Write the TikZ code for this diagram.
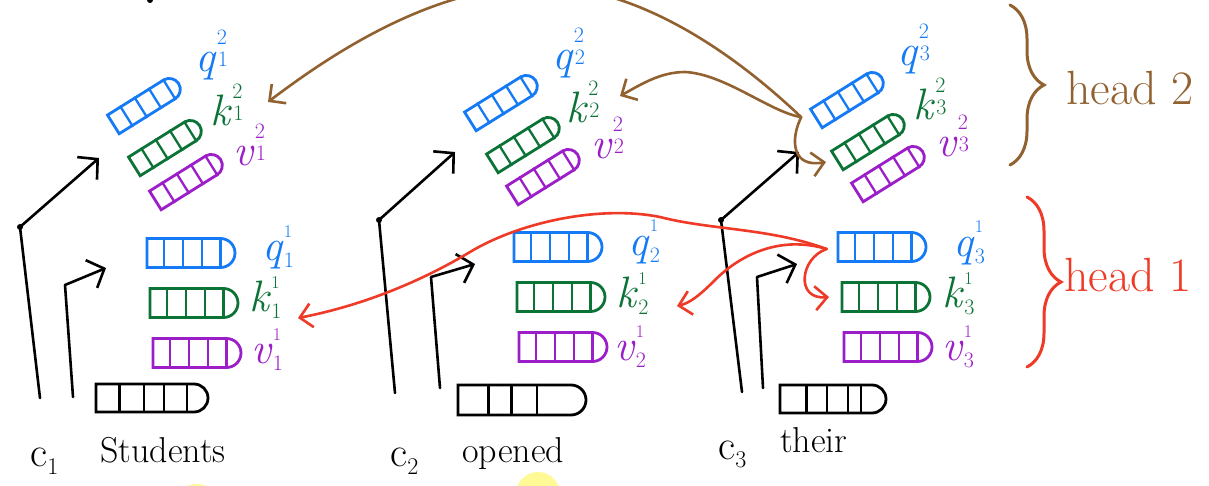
\documentclass[tikz,border=0pt]{standalone}
\usetikzlibrary{arrows.meta,calc,decorations.pathreplacing,shapes.misc}
\definecolor{cq}{RGB}{20,122,245}
\definecolor{ck}{RGB}{12,115,55}
\definecolor{cv}{RGB}{155,30,200}
\definecolor{cbr}{RGB}{145,98,48}
\definecolor{crd}{RGB}{238,58,38}
\definecolor{cyel}{RGB}{255,250,150}
% label = letter node + superscript node + subscript node
% #1 name, #2 colour, #3 position (base west), #4 letter, #5 sup, #6 sub
\newcommand{\labA}[6]{%
  \node[lbl,#2] (#1) at (#3) {\textit{#4}};
  \node[scrA,#2] (#1s) at ($(#1.base east)+(0,-27)$) {#5};
  \node[scrA,#2] (#1b) at ($(#1.base east)+(1,-5)$) {#6};}
\newcommand{\labB}[6]{%
  \node[lbl,#2] (#1) at (#3) {\textit{#4}};
  \node[scrB,#2] (#1s) at ($(#1.base east)+(0,-23)$) {#5};
  \node[scrA,#2] (#1b) at ($(#1.base east)+(0,7)$) {#6};}
\newcommand{\cells}[3]{\foreach \t in {#3}{\draw[#2,line width=2.3pt] ($(#1.north west)!\t!(#1.north east)$) -- ($(#1.south west)!\t!(#1.south east)$);}}
\begin{document}
\begin{tikzpicture}[x=1pt,y=-1pt,
  vbox/.style={rounded rectangle, rounded rectangle left arc=none, draw=#1, line width=2.8pt, inner sep=0pt},
  hvec/.style={vbox=#1, minimum width=88pt, minimum height=29pt},
  tvec/.style={vbox=#1, minimum width=77pt, minimum height=22pt, rotate=32},
  emb/.style={vbox=black, minimum height=28pt},
  lbl/.style={inner sep=0pt, anchor=base west, font=\fontsize{44}{44}\selectfont},
  scrA/.style={inner sep=0pt, anchor=base west, font=\fontsize{22}{22}\selectfont},
  scrB/.style={inner sep=0pt, anchor=base west, font=\fontsize{18}{18}\selectfont},
  word/.style={inner sep=0pt, anchor=base west, font=\fontsize{36}{36}\selectfont},
  cl/.style={inner sep=0pt, anchor=base west, font=\fontsize{42}{42}\selectfont},
  hd/.style={inner sep=0pt, font=\fontsize{48}{48}\selectfont},
  res/.style={line width=2.6pt, line cap=round, line join=round, -{Straight Barb[length=14pt,width=30pt,line width=2.6pt]}},
  att/.style={line width=2.6pt, line cap=round, -{Straight Barb[length=12pt,width=24pt,line width=2.6pt]}},
  dot/.style={circle, fill=black, inner sep=0pt, minimum size=6pt}
]
\useasboundingbox (0,0) rectangle (1209,486);
\clip (0,0) rectangle (1209,486);
\fill[white] (0,0) rectangle (1209,486);
\fill[cyel] (538,494) circle (22);
\fill[cyel] (197,506) circle (22);
\fill[black] (150,0) circle (3);

% ---------- embeddings ----------
\node[emb, minimum width=112pt] (e1) at (152,398) {};
\node[emb, minimum width=128pt, minimum height=30pt] (e2) at (522,400) {};
\node[emb, minimum width=106pt] (e3) at (833,399) {};
\cells{e1}{black}{0.25,0.5,0.7,0.93}
\cells{e2}{black}{0.28,0.48,0.7}
\cells{e3}{black}{0.3,0.52,0.74,0.88}

\node[cl] (c1) at (30,466) {c\raisebox{-0.2em}{\fontsize{24}{24}\selectfont 1}};
\node[cl] (c2) at (390,466) {c\raisebox{-0.2em}{\fontsize{24}{24}\selectfont 2}};
\node[cl] (c3) at (718,459) {c\raisebox{-0.2em}{\fontsize{24}{24}\selectfont 3}};
\node[word] (w1) at (100,462) {Students};
\node[word] (w2) at (462,462) {opened};
\node[word] (w3) at (780,452) {their};

% ---------- head 1 vectors ----------
\node[hvec=cq] (q11) at (191,253) {};
\node[hvec=ck] (k11) at (194,303) {};
\node[hvec=cv] (v11) at (197,353) {};
\node[hvec=cq] (q12) at (558,247) {};
\node[hvec=ck] (k12) at (561,297) {};
\node[hvec=cv] (v12) at (563,347) {};
\node[hvec=cq] (q13) at (882,247) {};
\node[hvec=ck] (k13) at (886,297) {};
\node[hvec=cv] (v13) at (888,347) {};
% ---------- head 2 vectors ----------
\node[tvec=cq] (q21) at (146,104) {};
\node[tvec=ck] (k21) at (167,146) {};
\node[tvec=cv] (v21) at (188,180) {};
\node[tvec=cq] (q22) at (503,101) {};
\node[tvec=ck] (k22) at (525,143) {};
\node[tvec=cv] (v22) at (545,175) {};
\node[tvec=cq] (q23) at (849,98) {};
\node[tvec=ck] (k23) at (870,140) {};
\node[tvec=cv] (v23) at (890,172) {};
\foreach \n/\c in {q11/cq,k11/ck,v11/cv,q12/cq,k12/ck,v12/cv,q13/cq,k13/ck,v13/cv,
                   q21/cq,k21/ck,v21/cv,q22/cq,k22/ck,v22/cv,q23/cq,k23/ck,v23/cv}{
  \cells{\n}{\c}{0.25,0.5,0.75,1}
}

% ---------- labels ----------
\labA{lq21}{cq}{195,72}{q}{2}{1}
\labA{lk21}{ck}{210,126}{k}{2}{1}
\labA{lv21}{cv}{233,166}{v}{2}{1}
\labA{lq22}{cq}{552,70}{q}{2}{2}
\labA{lk22}{ck}{566,123}{k}{2}{2}
\labA{lv22}{cv}{591,159}{v}{2}{2}
\labA{lq23}{cq}{897,66}{q}{2}{3}
\labA{lk23}{ck}{913,120}{k}{2}{3}
\labA{lv23}{cv}{936,157}{v}{2}{3}
\labB{lq11}{cq}{262,260}{q}{1}{1}
\labB{lk11}{ck}{249,311}{k}{1}{1}
\labB{lv11}{cv}{251,363}{v}{1}{1}
\labB{lq12}{cq}{628,255}{q}{1}{2}
\labB{lk12}{ck}{616,307}{k}{1}{2}
\labB{lv12}{cv}{614,360}{v}{1}{2}
\labB{lq13}{cq}{953,256}{q}{1}{3}
\labB{lk13}{ck}{942,307}{k}{1}{3}
\labB{lv13}{cv}{942,360}{v}{1}{3}

% ---------- residual / projection arrows ----------
\coordinate (a1) at (40,398);  \coordinate (a1m) at (20,227);  \coordinate (a1e) at (99,158);
\coordinate (b1) at (73,397);  \coordinate (b1m) at (65,285);  \coordinate (b1e) at (106,268);
\coordinate (a2) at (395,393); \coordinate (a2m) at (379,220); \coordinate (a2e) at (455,152);
\coordinate (b2) at (440,388); \coordinate (b2m) at (431,277); \coordinate (b2e) at (475,264);
\coordinate (a3) at (742,392); \coordinate (a3m) at (721,220); \coordinate (a3e) at (799,152);
\coordinate (b3) at (763,388); \coordinate (b3m) at (757,277); \coordinate (b3e) at (797,264);
\foreach \i in {1,2,3}{
  \draw[res] (a\i) -- (a\i m) -- (a\i e);
  \draw[res] (b\i) -- (b\i m) -- (b\i e);
  \node[dot] at (a\i m) {};
}

% ---------- head 2 attention (brown) ----------
\coordinate (bs) at ($(q23.west)+(-14,-2)$);
\coordinate (bt1) at (268,102);
\coordinate (bt2) at (620,96);
\coordinate (bt3) at (826,162);
\draw[att, cbr] (bs) .. controls (720,40) and (625,-16) .. (535,-14)
                     .. controls (430,-12) and (330,55) .. (bt1);
\draw[att, cbr] (bs) .. controls (770,112) and (725,74) .. (685,72)
                     .. controls (660,72) and (640,85) .. (bt2);
\draw[att, cbr] (bs) .. controls (790,140) and (792,168) .. (bt3);

% ---------- head 1 attention (red) ----------
\coordinate (rs) at ($(q13.west)+(-10,2)$);
\coordinate (rt1) at (298,318);
\coordinate (rt2) at (677,306);
\coordinate (rt3) at (829,297);
\draw[att, crd] (rs) .. controls (770,228) and (710,230) .. (660,217)
                     .. controls (600,205) and (520,222) .. (470,252)
                     .. controls (410,288) and (350,308) .. (rt1);
\draw[att, crd] (rs) .. controls (780,235) and (740,255) .. (715,280)
                     .. controls (700,295) and (690,303) .. (rt2);
\draw[att, crd] (rs) .. controls (800,258) and (795,300) .. (rt3);

% ---------- braces ----------
\draw[cbr, line width=3pt, line cap=round, decorate, decoration={brace, amplitude=34pt}] (1010,5) -- (1010,165);
\draw[crd, line width=3pt, line cap=round, decorate, decoration={brace, amplitude=34pt}] (1027,197) -- (1027,367);
\node[hd, cbr] (h2) at (1130,88) {head 2};
\node[hd, crd] (h1) at (1128,275) {head 1};
\end{tikzpicture}
\end{document}
